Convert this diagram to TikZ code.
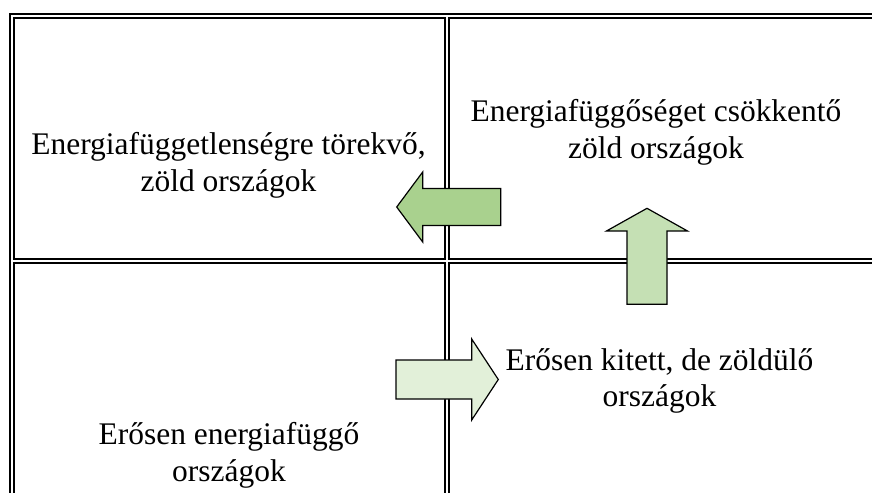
\documentclass[tikz,border=0pt]{standalone}
\usepackage{fontspec}
\setmainfont{Liberation Serif}
\begin{document}
\begin{tikzpicture}[x=0.75pt,y=-0.75pt,
  gridline/.style={line width=1.4pt, draw=black},
  blockarrow/.style={draw=black, line width=0.9pt, line join=miter},
  celltext/.style={align=center, inner sep=0pt, font=\fontsize{23.6}{27.5}\selectfont}]
\useasboundingbox (0,0) rectangle (872,493);
\clip (0,0) rectangle (872,493);
\definecolor{arrowA}{RGB}{169,209,142}
\definecolor{arrowB}{RGB}{197,224,180}
\definecolor{arrowC}{RGB}{226,240,217}
% outer frame
\draw[gridline] (885,13.7) -- (10,13.7) -- (10,505);
% cells
\draw[gridline] (14,17.7) rectangle (445,259);
\draw[gridline] (885,17.7) -- (449,17.7) -- (449,259) -- (885,259);
\draw[gridline] (445,505) -- (445,263) -- (14,263) -- (14,505);
\draw[gridline] (885,263) -- (449,263) -- (449,505);
% texts
\node[celltext] (tl) at (228.5,165.3) {Energiafüggetlenségre törekvő,\\zöld országok};
\node[celltext] (tr) at (656,132.3) {Energiafüggőséget csökkentő\\zöld országok};
\node[celltext] (br) at (659.5,381) {Erősen kitett, de zöldülő\\országok};
\node[celltext] (bl) at (229,455.3) {Erősen energiafüggő\\országok};
% arrows
\draw[blockarrow, fill=arrowA] (500.7,188.5) -- (422.7,188.5) -- (422.7,172) -- (396.7,207) -- (422.7,242) -- (422.7,225.5) -- (500.7,225.5) -- cycle;
\draw[blockarrow, fill=arrowB] (627,304.3) -- (627,231) -- (606.5,231) -- (647,208.3) -- (687.5,231) -- (667,231) -- (667,304.3) -- cycle;
\draw[blockarrow, fill=arrowC] (396,360) -- (471.7,360) -- (471.7,339) -- (498.3,379.5) -- (471.7,420) -- (471.7,399) -- (396,399) -- cycle;
\end{tikzpicture}
\end{document}
